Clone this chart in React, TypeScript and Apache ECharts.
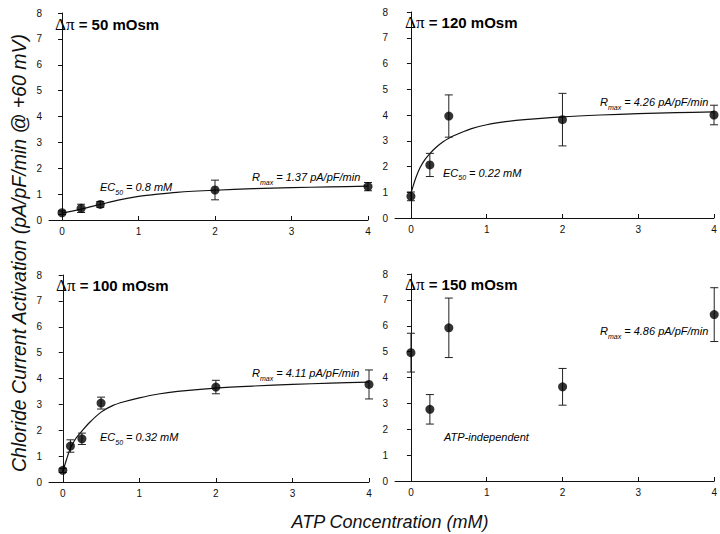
import React, { useEffect, useRef } from "react";
import * as echarts from "echarts";

// ---------- data ----------
const xTicks = [0, 1, 2, 3, 4];

const atp50 = [0, 0.25, 0.5, 2, 4];
const mean50 = [0.28, 0.45, 0.6, 1.16, 1.29];
const err50 = [0.07, 0.16, 0.11, 0.38, 0.16];
const fit50X = [0, 0.25, 0.5, 0.75, 1, 1.25, 1.5, 2, 2.5, 3, 3.5, 4];
const fit50Y = [0.26, 0.42, 0.6, 0.78, 0.91, 1.0, 1.07, 1.15, 1.21, 1.25, 1.28, 1.31];

const atp120 = [0, 0.25, 0.5, 2, 4];
const mean120 = [0.84, 2.06, 3.96, 3.82, 4.0];
const err120 = [0.17, 0.45, 0.82, 1.02, 0.38];
const fit120X = [0, 0.03, 0.07, 0.12, 0.18, 0.25, 0.33, 0.42, 0.5, 0.65, 0.8, 1, 1.25, 1.5, 2, 2.5, 3, 3.5, 4];
const fit120Y = [0.95, 1.25, 1.6, 1.95, 2.25, 2.5, 2.74, 2.95, 3.1, 3.3, 3.47, 3.62, 3.74, 3.82, 3.93, 4.0, 4.05, 4.09, 4.12];

const atp100 = [0, 0.1, 0.25, 0.5, 2, 4];
const mean100 = [0.45, 1.39, 1.67, 3.05, 3.67, 3.77];
const err100 = [0.08, 0.24, 0.22, 0.23, 0.26, 0.56];
const fit100X = [0, 0.05, 0.1, 0.17, 0.25, 0.35, 0.5, 0.65, 0.8, 1, 1.25, 1.5, 2, 2.5, 3, 3.5, 4];
const fit100Y = [0.4, 0.88, 1.3, 1.68, 1.97, 2.3, 2.7, 2.95, 3.1, 3.25, 3.4, 3.5, 3.63, 3.71, 3.77, 3.82, 3.86];

const atp150 = [0, 0.25, 0.5, 2, 4];
const mean150 = [4.96, 2.77, 5.92, 3.64, 6.43];
const err150 = [0.75, 0.57, 1.15, 0.71, 1.04];

const panelTitles = ["50", "120", "100", "150"];

// ---------- layout ----------
const FONT = "Liberation Sans, Arial, sans-serif";
const grids = [
  { left: 49, top: 13, width: 319, height: 207, xmin: -0.17 },
  { left: 395, top: 12, width: 319, height: 206, xmin: -0.21 },
  { left: 49, top: 275, width: 320, height: 207, xmin: -0.18 },
  { left: 395, top: 274, width: 320, height: 207, xmin: -0.21 },
];

const zip = (xs: number[], ys: number[]) => xs.map((x, i) => [x, ys[i]]);
const zip3 = (xs: number[], ys: number[], es: number[]) => xs.map((x, i) => [x, ys[i], es[i]]);

export default function App() {
  const ref = useRef<HTMLDivElement>(null);
  useEffect(() => {
    if (!ref.current) return;
    const chart = echarts.init(ref.current, null, { renderer: "svg" });

    const axisLine = { show: true, lineStyle: { color: "#111", width: 1 } };
    const xAxis = grids.map((g, i) => ({
      type: "value",
      gridIndex: i,
      min: g.xmin,
      max: 4,
      axisLine,
      splitLine: { show: false },
      axisTick: { show: true, inside: true, length: 4, customValues: xTicks, lineStyle: { color: "#111" } },
      axisLabel: { show: true, customValues: xTicks, color: "#111", fontSize: 10, fontFamily: FONT, margin: 6 },
    }));
    const yAxis = grids.map((g, i) => ({
      type: "value",
      gridIndex: i,
      min: 0,
      max: 8,
      interval: 1,
      axisLine,
      splitLine: { show: false },
      axisTick: { show: true, inside: false, length: 4, lineStyle: { color: "#111" } },
      axisLabel: { color: "#111", fontSize: 10, fontFamily: FONT, margin: 7 },
    }));

    const errRender = (params: any, api: any) => {
      const x = api.value(0);
      const y = api.value(1);
      const e = api.value(2);
      const top = api.coord([x, y + e]);
      const bot = api.coord([x, y - e]);
      const hw = 4;
      const style = { stroke: "#222", lineWidth: 1 };
      return {
        type: "group",
        children: [
          { type: "line", shape: { x1: top[0], y1: top[1], x2: bot[0], y2: bot[1] }, style },
          { type: "line", shape: { x1: top[0] - hw, y1: top[1], x2: top[0] + hw, y2: top[1] }, style },
          { type: "line", shape: { x1: bot[0] - hw, y1: bot[1], x2: bot[0] + hw, y2: bot[1] }, style },
        ],
      };
    };

    const pts = [
      zip3(atp50, mean50, err50),
      zip3(atp120, mean120, err120),
      zip3(atp100, mean100, err100),
      zip3(atp150, mean150, err150),
    ];
    const fits = [zip(fit50X, fit50Y), zip(fit120X, fit120Y), zip(fit100X, fit100Y), null];

    const series: any[] = [];
    pts.forEach((d, i) => {
      if (fits[i]) {
        series.push({
          type: "line",
          xAxisIndex: i,
          yAxisIndex: i,
          data: fits[i],
          smooth: 0.3,
          showSymbol: false,
          symbol: "none",
          lineStyle: { color: "#111", width: 1.2 },
          z: 2,
        });
      }
      series.push({
        type: "custom",
        xAxisIndex: i,
        yAxisIndex: i,
        data: d,
        encode: { x: 0, y: 1 },
        renderItem: errRender,
        clip: false,
        z: 3,
      });
      series.push({
        type: "scatter",
        xAxisIndex: i,
        yAxisIndex: i,
        data: d.map((p) => [p[0], p[1]]),
        symbol: "circle",
        symbolSize: 9,
        itemStyle: { color: "#000" },
        z: 4,
      });
    });

    const annRich = {
      i: { fontFamily: FONT, fontStyle: "italic", fontSize: 11, color: "#111", lineHeight: 14, verticalAlign: "middle" },
      s: { fontFamily: FONT, fontStyle: "italic", fontSize: 7, color: "#111", lineHeight: 17, verticalAlign: "bottom" },
    };
    const ann = (x: number, y: number, text: string) => ({
      type: "text",
      x,
      y,
      style: { text, rich: annRich, align: "left", verticalAlign: "middle" },
    });
    const titleRich = {
      g: { fontFamily: "Liberation Serif, serif", fontSize: 17, color: "#000" },
      b: { fontFamily: FONT, fontWeight: "bold", fontSize: 15, color: "#000" },
    };
    const titlePos = [
      [55, 24],
      [405, 22],
      [56, 285],
      [405, 284],
    ];

    const graphic: any[] = [
      ...titlePos.map((p, i) => ({
        type: "text",
        x: p[0],
        y: p[1],
        style: {
          text: `{g|Δπ}{b| = ${panelTitles[i]} mOsm}`,
          rich: titleRich,
          align: "left",
          verticalAlign: "middle",
        },
      })),
      ann(100, 187, "{i|EC}{s|50}{i| = 0.8 mM}"),
      ann(252, 177, "{i|R}{s|max}{i| = 1.37 pA/pF/min}"),
      ann(443, 172.5, "{i|EC}{s|50}{i| = 0.22 mM}"),
      ann(600, 102, "{i|R}{s|max}{i| = 4.26 pA/pF/min}"),
      ann(100, 437, "{i|EC}{s|50}{i| = 0.32 mM}"),
      ann(252, 373, "{i|R}{s|max}{i| = 4.11 pA/pF/min}"),
      ann(600, 331, "{i|R}{s|max}{i| = 4.86 pA/pF/min}"),
      ann(444, 436.5, "{i|ATP-independent}"),
      {
        type: "text",
        x: 19,
        y: 253,
        rotation: Math.PI / 2,
        style: {
          text: "Chloride Current Activation (pA/pF/min @ +60 mV)",
          fontFamily: FONT,
          fontStyle: "italic",
          fontSize: 19.5,
          fill: "#111",
          align: "center",
          verticalAlign: "middle",
        },
      },
      {
        type: "text",
        x: 390,
        y: 522,
        style: {
          text: "ATP Concentration (mM)",
          fontFamily: FONT,
          fontStyle: "italic",
          fontSize: 18,
          fill: "#111",
          align: "center",
          verticalAlign: "middle",
        },
      },
    ];

    chart.setOption({
      animation: false,
      backgroundColor: "#fff",
      grid: grids.map((g) => ({ left: g.left, top: g.top, width: g.width, height: g.height, containLabel: false })),
      xAxis,
      yAxis,
      series,
      graphic,
    });
    return () => chart.dispose();
  }, []);
  return (
    <div
      ref={ref}
      style={{ position: "absolute", left: 0, top: 0, width: 720, height: 534, background: "#fff" }}
    />
  );
}
